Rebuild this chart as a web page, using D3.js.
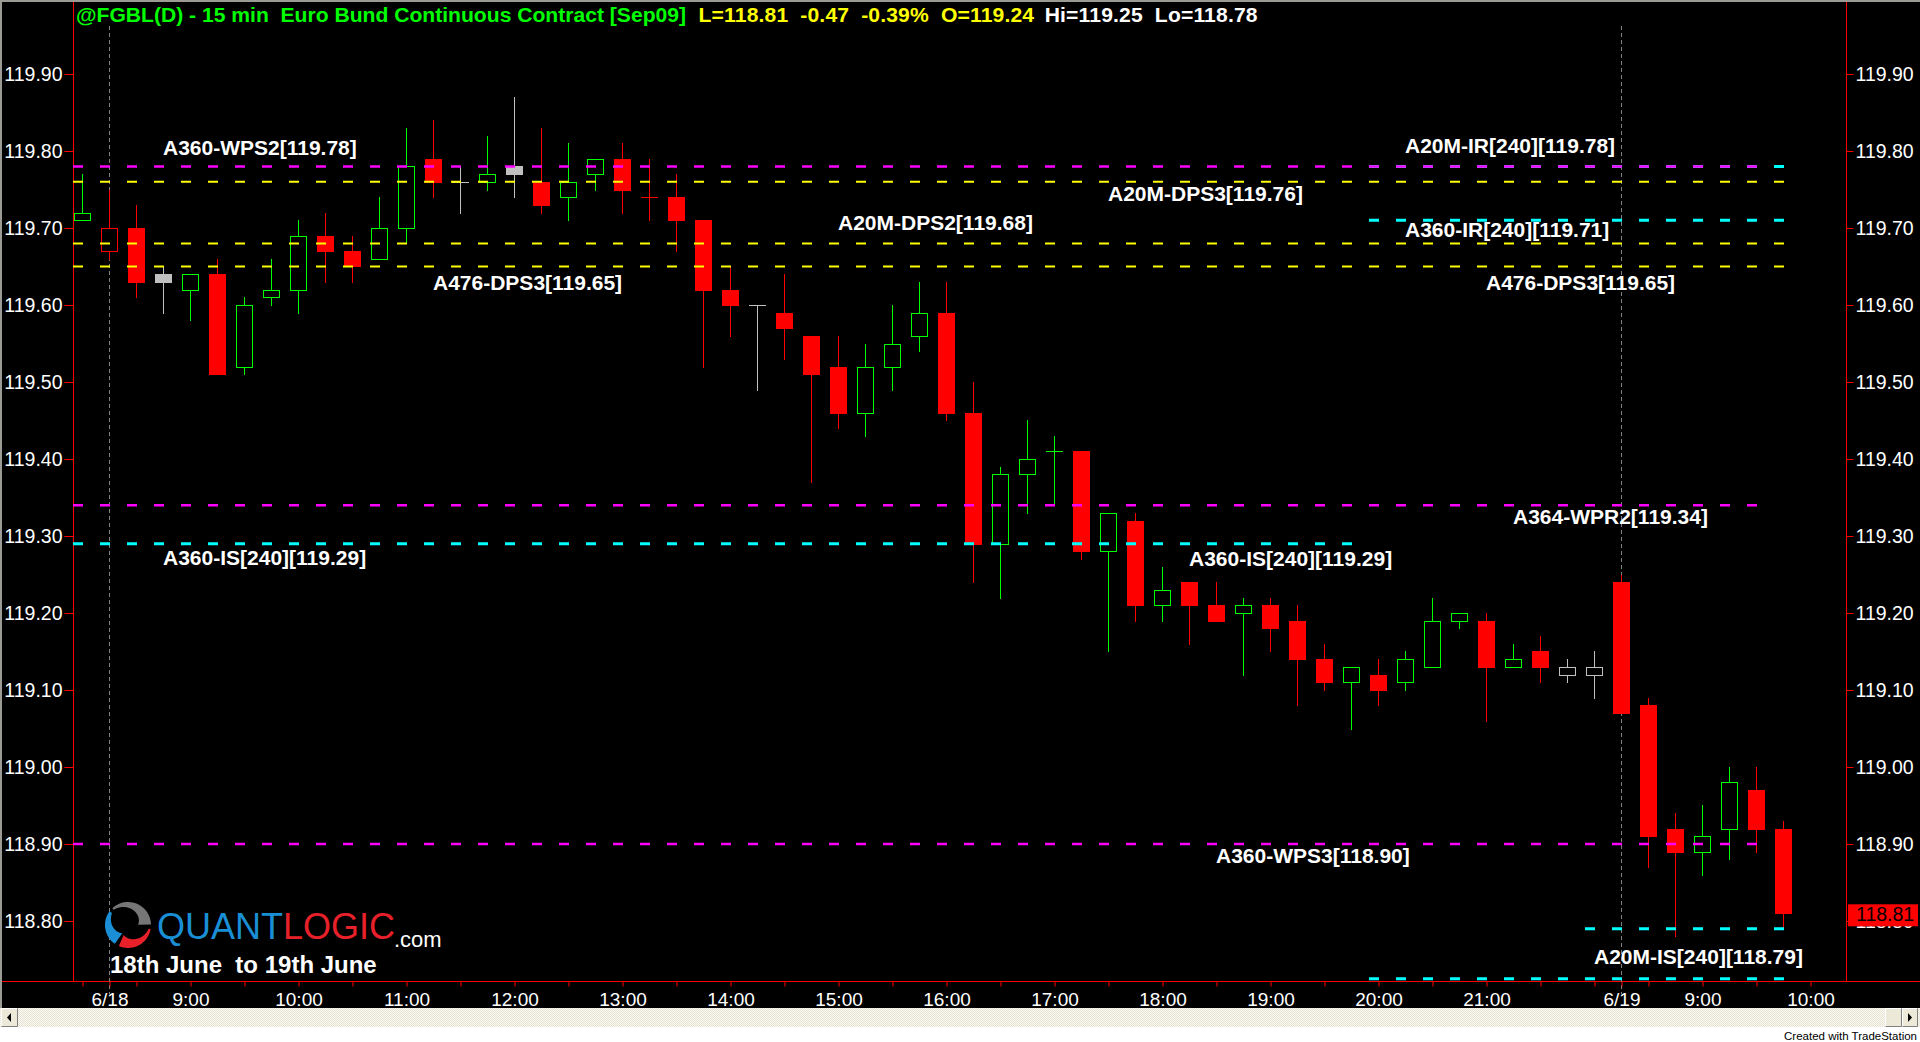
<!DOCTYPE html>
<html><head><meta charset="utf-8">
<script src="https://cdn.jsdelivr.net/npm/d3@7"></script>
<style>
html,body{margin:0;padding:0;background:#fff;overflow:hidden;}
svg{display:block;}
text{font-family:"Liberation Sans", Arial, sans-serif;}
</style></head><body>
<svg id="chart" width="1920" height="1042"></svg>
<script>
// ---------------- DATA ----------------
const titleMain = "@FGBL(D) - 15 min  Euro Bund Continuous Contract [Sep09]";
const titleQuote = "  L=118.81  -0.47  -0.39%  O=119.24";
const titleRange = "  Hi=119.25  Lo=118.78";
const dateRangeText = "18th June  to 19th June";

// 15-min bar categories (bar end times); last entry is an empty future slot
const barTimes = [
  "6/17 22:00",
  "6/18 08:15","6/18 08:30","6/18 08:45","6/18 09:00",
  "6/18 09:15","6/18 09:30","6/18 09:45","6/18 10:00",
  "6/18 10:15","6/18 10:30","6/18 10:45","6/18 11:00",
  "6/18 11:15","6/18 11:30","6/18 11:45","6/18 12:00",
  "6/18 12:15","6/18 12:30","6/18 12:45","6/18 13:00",
  "6/18 13:15","6/18 13:30","6/18 13:45","6/18 14:00",
  "6/18 14:15","6/18 14:30","6/18 14:45","6/18 15:00",
  "6/18 15:15","6/18 15:30","6/18 15:45","6/18 16:00",
  "6/18 16:15","6/18 16:30","6/18 16:45","6/18 17:00",
  "6/18 17:15","6/18 17:30","6/18 17:45","6/18 18:00",
  "6/18 18:15","6/18 18:30","6/18 18:45","6/18 19:00",
  "6/18 19:15","6/18 19:30","6/18 19:45","6/18 20:00",
  "6/18 20:15","6/18 20:30","6/18 20:45","6/18 21:00",
  "6/18 21:15","6/18 21:30","6/18 21:45","6/18 22:00",
  "6/19 08:15","6/19 08:30","6/19 08:45","6/19 09:00",
  "6/19 09:15","6/19 09:30","6/19 09:45","6/19 10:00"
];
const opens = [
  119.71,
  119.67,119.70,119.64,119.62, 119.64,119.52,119.61,119.62, 119.69,119.67,119.66,119.70,
  119.79,119.76,119.76,119.78, 119.76,119.74,119.77,119.79, 119.74,119.74,119.71,119.62,
  119.60,119.59,119.56,119.52, 119.46,119.52,119.56,119.59, 119.46,119.29,119.38,119.41,
  119.41,119.28,119.32,119.21, 119.24,119.21,119.20,119.21, 119.19,119.14,119.11,119.12,
  119.11,119.13,119.19,119.19, 119.13,119.15,119.12,119.12,
  119.24,119.08,118.92,118.89, 118.92,118.97,118.92
];
const highs = [
  119.77,
  119.75,119.73,119.65,119.64, 119.66,119.61,119.66,119.71, 119.72,119.69,119.74,119.83,
  119.84,119.78,119.82,119.87, 119.83,119.81,119.79,119.81, 119.79,119.77,119.71,119.65,
  119.60,119.64,119.56,119.56, 119.55,119.60,119.63,119.63, 119.50,119.39,119.45,119.43,
  119.41,119.33,119.33,119.26, 119.24,119.24,119.22,119.22, 119.21,119.16,119.13,119.14,
  119.15,119.22,119.20,119.20, 119.16,119.17,119.14,119.15,
  119.25,119.09,118.94,118.95, 119.00,119.00,118.93
];
const lows = [
  119.71,
  119.66,119.61,119.59,119.58, 119.51,119.51,119.60,119.59, 119.63,119.63,119.66,119.68,
  119.74,119.72,119.75,119.74, 119.72,119.71,119.75,119.72, 119.71,119.67,119.52,119.56,
  119.49,119.53,119.37,119.44, 119.43,119.49,119.54,119.45, 119.24,119.22,119.33,119.34,
  119.27,119.15,119.19,119.19, 119.16,119.19,119.12,119.15, 119.08,119.10,119.05,119.08,
  119.10,119.13,119.18,119.06, 119.13,119.11,119.11,119.09,
  119.07,118.87,118.78,118.86, 118.88,118.89,118.79
];
const closes = [
  119.72,
  119.70,119.63,119.63,119.64, 119.51,119.60,119.62,119.69, 119.67,119.65,119.70,119.78,
  119.76,119.76,119.77,119.77, 119.73,119.76,119.79,119.75, 119.74,119.71,119.62,119.60,
  119.60,119.57,119.51,119.46, 119.52,119.55,119.59,119.46, 119.29,119.38,119.40,119.41,
  119.28,119.33,119.21,119.23, 119.21,119.19,119.21,119.18, 119.14,119.11,119.13,119.10,
  119.14,119.19,119.20,119.13, 119.14,119.13,119.13,119.13,
  119.07,118.91,118.89,118.91, 118.98,118.92,118.81
];
const priorClose = 119.70;
const lastPrice = 118.81;

const yTickValues = [118.80,118.90,119.00,119.10,119.20,119.30,119.40,119.50,119.60,119.70,119.80,119.90];
const xLabelBars  = ["6/18 08:15","6/18 09:00","6/18 10:00","6/18 11:00","6/18 12:00","6/18 13:00","6/18 14:00",
                     "6/18 15:00","6/18 16:00","6/18 17:00","6/18 18:00","6/18 19:00","6/18 20:00","6/18 21:00",
                     "6/19 08:15","6/19 09:00","6/19 10:00"];
const xLabelTexts = ["6/18","9:00","10:00","11:00","12:00","13:00","14:00","15:00","16:00","17:00","18:00",
                     "19:00","20:00","21:00","6/19","9:00","10:00"];
const dayStartBars = ["6/18 08:15","6/19 08:15"];

// horizontal level lines
const levelValues = [119.78, 119.71, 119.29, 118.79, 118.725, 119.76, 119.68, 119.65, 119.78, 119.34, 118.90];
const levelKinds  = ["cyan","cyan","cyan","cyan","cyan","yellow","yellow","yellow","magenta","magenta","magenta"];
const levelFrom   = ["6/18 20:00","6/18 20:00","6/17 22:00","6/18 22:00","6/18 20:00",
                     "6/17 22:00","6/17 22:00","6/17 22:00","6/17 22:00","6/17 22:00","6/17 22:00"];
const levelTo     = ["6/19 09:45","6/19 09:45","6/18 19:45","6/19 09:45","6/19 09:45",
                     "6/19 09:45","6/19 09:45","6/19 09:45","6/19 09:30","6/19 09:30","6/19 09:30"];

// level annotations
const annTexts  = ["A360-WPS2[119.78]","A20M-IR[240][119.78]","A20M-DPS3[119.76]","A20M-DPS2[119.68]",
                   "A360-IR[240][119.71]","A476-DPS3[119.65]","A476-DPS3[119.65]","A364-WPR2[119.34]",
                   "A360-IS[240][119.29]","A360-IS[240][119.29]","A360-WPS3[118.90]","A20M-IS[240][118.79]"];
const annValues = [119.78,119.78,119.76,119.68,119.71,119.65,119.65,119.34,119.29,119.29,118.90,118.79];
const annBars   = ["6/18 08:45","6/18 20:15","6/18 17:30","6/18 15:00","6/18 20:15","6/18 11:15",
                   "6/18 21:00","6/18 21:15","6/18 08:45","6/18 18:15","6/18 18:30","6/18 22:00"];

// ---------------- LAYOUT / STYLE ----------------
const annDy = [-11,-13,19,-13,17,23.5,23.5,19,21,22,19,35];
const kindColor = {cyan:"#00ffff", yellow:"#ffff00", magenta:"#ff00ff"};
const kindWidth = {cyan:3, yellow:2, magenta:2.5};
const RED = "#ff0000", GREEN = "#00ff00", GRAY = "#c0c0c0";
const plotLeft = 73.5, plotRight = 1846.5, axisY = 981.5;

const svg = d3.select("#chart");

// background
svg.append("rect").attr("x",0).attr("y",0).attr("width",1920).attr("height",1042).attr("fill","#ffffff");
svg.append("rect").attr("x",0).attr("y",0).attr("width",1920).attr("height",1008).attr("fill","#000000");
svg.append("rect").attr("x",0).attr("y",0).attr("width",1920).attr("height",2).attr("fill","#9c9a94");
svg.append("rect").attr("x",0).attr("y",0).attr("width",2).attr("height",1008).attr("fill","#9c9a94");

// scales
const x = d3.scalePoint().domain(barTimes).range([82, 82 + 27 * (barTimes.length - 1)]);
const y = d3.scaleLinear().domain([118.80, 119.90]).range([921, 74]);

// plot frame
svg.append("line").attr("x1",plotLeft).attr("x2",plotLeft).attr("y1",2).attr("y2",axisY).attr("stroke",RED);
svg.append("line").attr("x1",plotRight).attr("x2",plotRight).attr("y1",2).attr("y2",axisY).attr("stroke",RED);
svg.append("line").attr("x1",2).attr("x2",1920).attr("y1",axisY).attr("y2",axisY).attr("stroke",RED);

// day separators
dayStartBars.forEach(d => {
  const xx = Math.round(x(d)) + 0.5;
  svg.append("line").attr("x1",xx).attr("x2",xx).attr("y1",26).attr("y2",994)
    .attr("stroke","#808080").attr("stroke-width",1).attr("stroke-dasharray","4,3");
});

// axes
const axisFont = 19.5;
function styleAxis(g, col) {
  g.select(".domain").remove();
  g.selectAll(".tick line").attr("stroke", col);
  g.selectAll(".tick text").attr("fill","#ffffff").attr("font-size",axisFont)
    .attr("font-family",'"Liberation Sans", Arial, sans-serif');
}
const yLeft = svg.append("g").attr("transform",`translate(${plotLeft},0)`)
  .call(d3.axisLeft(y).tickValues(yTickValues).tickFormat(d3.format(".2f")).tickSize(9).tickPadding(2));
styleAxis(yLeft, RED);
const yRight = svg.append("g").attr("transform",`translate(${plotRight},0)`)
  .call(d3.axisRight(y).tickValues(yTickValues).tickFormat(d3.format(".2f")).tickSize(7).tickPadding(2));
styleAxis(yRight, RED);

const tickBars = barTimes.filter(t => /:(00|30)$/.test(t) || dayStartBars.includes(t));
const labelMap = new Map(xLabelBars.map((b,i)=>[b, xLabelTexts[i]]));
const xAxis = svg.append("g").attr("transform",`translate(0.5,${axisY})`)
  .call(d3.axisBottom(x).tickValues(tickBars).tickFormat(d => labelMap.get(d) || "").tickSize(5).tickPadding(6));
styleAxis(xAxis, RED);
xAxis.selectAll(".tick text").attr("font-size",19);

// candles
const candles = svg.append("g");
opens.forEach((o, i) => {
  const c = closes[i], h = highs[i], l = lows[i];
  const prev = i === 0 ? priorClose : closes[i-1];
  const col = c > prev ? GREEN : (c < prev ? RED : GRAY);
  const cx = Math.round(x(barTimes[i]));
  candles.append("line").attr("x1",cx+0.5).attr("x2",cx+0.5)
    .attr("y1",Math.round(y(h))).attr("y2",Math.round(y(l))+1).attr("stroke",col);
  if (o === c) {
    const yy = Math.round(y(o)) + 0.5;
    candles.append("line").attr("x1",cx-8).attr("x2",cx+9).attr("y1",yy).attr("y2",yy).attr("stroke",col);
  } else {
    const top = Math.round(y(Math.max(o,c))), bot = Math.round(y(Math.min(o,c)));
    if (c < o) {
      candles.append("rect").attr("x",cx-8).attr("y",top).attr("width",17).attr("height",bot-top+1).attr("fill",col);
    } else {
      candles.append("rect").attr("x",cx-7.5).attr("y",top+0.5).attr("width",16).attr("height",bot-top)
        .attr("fill","#000").attr("stroke",col).attr("stroke-width",1);
    }
  }
});

// level lines
const levels = svg.append("g");
levelValues.forEach((v,i) => {
  const k = levelKinds[i];
  const yy = Math.min(y(v), axisY - 2.5);
  const x0 = x(levelFrom[i]) - 9, x1 = x(levelTo[i]) + 1;
  levels.append("line").attr("x1",x0).attr("x2",x1).attr("y1",yy).attr("y2",yy)
    .attr("stroke",kindColor[k]).attr("stroke-width", y(v) > axisY - 2.5 ? 2 : kindWidth[k])
    .attr("stroke-dasharray","10,17");
});

// annotations
const ann = svg.append("g");
annTexts.forEach((t,i) => {
  ann.append("text").attr("x",x(annBars[i])).attr("y",y(annValues[i]) + annDy[i])
    .attr("fill","#ffffff").attr("font-size",21).attr("font-weight","bold").text(t);
});

// last price box
const lpY = y(lastPrice);
svg.append("rect").attr("x",plotRight+1.5).attr("y",lpY-9).attr("width",70).attr("height",22).attr("fill",RED);
svg.append("text").attr("x",plotRight+9.5).attr("y",lpY+7.5).attr("fill","#000").attr("font-size",axisFont).text(d3.format(".2f")(lastPrice));

// title
const title = svg.append("text").attr("x",76).attr("y",22).attr("font-size",21.1).attr("font-weight","bold")
  .style("white-space","pre");
title.append("tspan").attr("fill","#00ff00").text(titleMain);
title.append("tspan").attr("fill","#ffff00").attr("dx",0.5).attr("letter-spacing",0.15).text(titleQuote);
title.append("tspan").attr("fill","#ffffff").attr("dx",-1.5).attr("letter-spacing",0.15).text(titleRange);

// logo (three tapered swooshes)
const logo = svg.append("g").attr("transform","translate(128,925)");
function swoosh(a1, a2, R, wStart, wEnd) {
  const n = 24, outer = [], inner = [];
  for (let k = 0; k <= n; k++) {
    const t = k / n, a = a1 + (a2 - a1) * t;
    const w = wStart + (wEnd - wStart) * t;
    outer.push([R * Math.sin(a), -R * Math.cos(a)]);
    inner.push([(R - w) * Math.sin(a), -(R - w) * Math.cos(a)]);
  }
  return d3.line()(outer.concat(inner.reverse())) + "Z";
}
logo.append("path").attr("d",swoosh(-0.75, 1.55, 23, 2, 13)).attr("fill","#767676");
logo.append("path").attr("d",swoosh(1.75, 3.55, 23, 2, 12)).attr("fill","#e8202a");
logo.append("path").attr("d",swoosh(3.75, 5.35, 23, 13, 3)).attr("fill","#1a8fd5");
const lt = svg.append("text").attr("x",157).attr("y",939).attr("font-size",36);
lt.append("tspan").attr("fill","#1a8fd5").text("QUANT");
lt.append("tspan").attr("fill","#e8202a").text("LOGIC");
svg.append("text").attr("x",394).attr("y",947).attr("font-size",22).attr("fill","#ffffff").text(".com");
svg.append("text").attr("x",110).attr("y",973).attr("font-size",24).attr("font-weight","bold")
  .attr("fill","#ffffff").style("white-space","pre").text(dateRangeText);

// scrollbar
const defs = svg.append("defs");
const pat = defs.append("pattern").attr("id","dither").attr("width",2).attr("height",2).attr("patternUnits","userSpaceOnUse");
pat.append("rect").attr("width",2).attr("height",2).attr("fill","#fbfaf5");
pat.append("rect").attr("width",1).attr("height",1).attr("fill","#e6e2d2");
pat.append("rect").attr("x",1).attr("y",1).attr("width",1).attr("height",1).attr("fill","#e6e2d2");
svg.append("rect").attr("x",0).attr("y",1008).attr("width",1920).attr("height",19).attr("fill","url(#dither)");
function button(bx, w) {
  svg.append("rect").attr("x",bx).attr("y",1008).attr("width",w).attr("height",19).attr("fill","#ece9d8");
  svg.append("path").attr("d",`M${bx+0.5},1026.5V1008.5H${bx+w-0.5}`).attr("stroke","#ffffff").attr("fill","none");
  svg.append("path").attr("d",`M${bx+0.5},1026.5H${bx+w-0.5}V1008.5`).attr("stroke","#808080").attr("fill","none");
}
button(1, 17);
svg.append("path").attr("d","M11,1013 L7,1017.5 L11,1022 Z").attr("fill","#000");
button(1885, 17);
button(1902, 16);
svg.append("path").attr("d","M1908,1013 L1912,1017.5 L1908,1022 Z").attr("fill","#000");
svg.append("text").attr("x",1917).attr("y",1040).attr("text-anchor","end").attr("font-size",11.5)
  .attr("fill","#000").text("Created with TradeStation");
</script>
</body></html>
